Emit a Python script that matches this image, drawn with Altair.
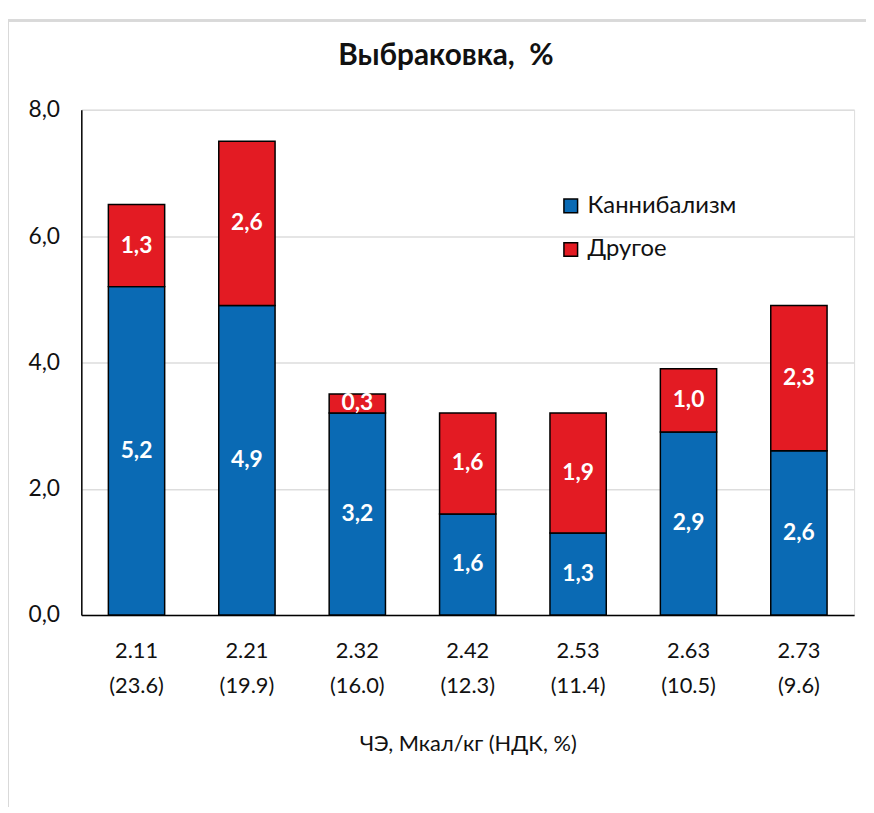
import altair as alt
import pandas as pd

title_text = "Выбраковка,\u00a0 %"
categories = ["2.11\n(23.6)", "2.21\n(19.9)", "2.32\n(16.0)", "2.42\n(12.3)",
              "2.53\n(11.4)", "2.63\n(10.5)", "2.73\n(9.6)"]
cannibalism = [5.2, 4.9, 3.2, 1.6, 1.3, 2.9, 2.6]
other = [1.3, 2.6, 0.3, 1.6, 1.9, 1.0, 2.3]
series_names = ["Каннибализм", "Другое"]
colors = ["#0A6AB4", "#E31B23"]

rows = []
for c, a, b in zip(categories, cannibalism, other):
    rows.append({"cat": c, "series": series_names[0], "value": a, "ord": 0})
    rows.append({"cat": c, "series": series_names[1], "value": b, "ord": 1})
df = pd.DataFrame(rows)

FONT = "Lato"
W, H = 780, 510

base = alt.Chart(df).transform_stack(
    stack="value", groupby=["cat"], as_=["y0", "y1"],
    sort=[alt.SortField("ord", order="ascending")]
).transform_calculate(mid="(datum.y0 + datum.y1) / 2",
                      lbl="replace(format(datum.value, '.1f'), '.', ',')")

xenc = alt.X("cat:N", sort=categories, title="ЧЭ, Мкал/кг (НДК, %)",
             scale=alt.Scale(paddingInner=0.49, paddingOuter=0.245),
             axis=alt.Axis(labelExpr="split(datum.label, '\\n')", labelAngle=0,
                           labelFontSize=22, labelLineHeight=35, labelPadding=26,
                           labelColor="#111", ticks=False, domainColor="#000",
                           domainWidth=1.5, titleFontSize=22, titleFontWeight="normal",
                           titlePadding=38, titleColor="#111", labelFont=FONT, titleFont=FONT))

bars = base.mark_bar(stroke="#000", strokeWidth=1.5).encode(
    x=xenc,
    y=alt.Y("y0:Q", scale=alt.Scale(domain=[0, 8]), title=None,
            axis=alt.Axis(values=[0, 2, 4, 6, 8],
                          labelExpr="replace(format(datum.value, '.1f'), '.', ',')",
                          labelFontSize=23, labelPadding=22, ticks=False,
                          domainColor="#000", domainWidth=1.5, gridColor="#dddddd",
                          gridWidth=1.5, labelColor="#111", labelFont=FONT)),
    y2="y1:Q",
    color=alt.Color("series:N", scale=alt.Scale(domain=series_names, range=colors),
                    legend=alt.Legend(title=None, orient="none", legendX=482, legendY=85,
                                      symbolType="square", symbolSize=190,
                                      symbolStrokeColor="#000", symbolStrokeWidth=1.5,
                                      labelFontSize=24, labelFont=FONT, labelColor="#111",
                                      rowPadding=20, labelOffset=5)),
)

labels = base.mark_text(color="white", fontWeight="bold", fontSize=23, font=FONT).encode(
    x=alt.X("cat:N", sort=categories),
    y=alt.Y("mid:Q"),
    text="lbl:N",
)

title = alt.Chart(pd.DataFrame({"t": [title_text]})).mark_text(
    fontSize=30, font=FONT, fontWeight="bold", color="#111", baseline="middle", align="center"
).encode(x=alt.value(368), y=alt.value(-54), text="t:N")

frame = alt.Chart(df).mark_rect(fill=None, stroke="#d9d9d9", strokeWidth=2).encode(
    x=alt.value(-74), x2=alt.value(W + 40), y=alt.value(-90), y2=alt.value(H + 220)
)

chart = alt.layer(frame, bars, labels, title).properties(
    width=W, height=H,
    autosize=alt.AutoSizeParams(type="none"),
    padding={"left": 74, "top": 99, "right": 12, "bottom": 190},
).configure_view(stroke=None).configure(background="white")

chart.save("out.html", embed_options={"renderer": "svg", "actions": False})
